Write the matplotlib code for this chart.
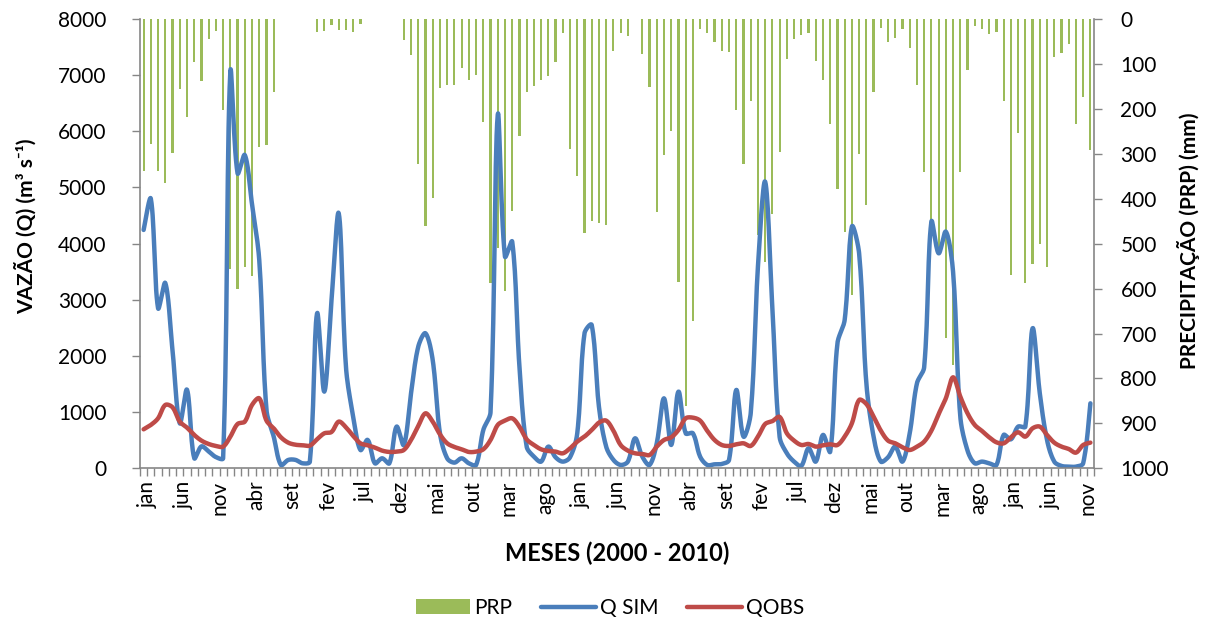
import numpy as np
import matplotlib
matplotlib.use("Agg")
import matplotlib.pyplot as plt
from matplotlib.transforms import ScaledTranslation

plt.rcParams['font.family'] = ['Lato', 'DejaVu Sans']

# precipitação mensal (mm), jan/2000 - dez/2010
prp = [338, 279, 338, 364, 299, 155, 219, 96, 138, 45, 26, 203,
       557, 602, 553, 572, 286, 281, 162, 0, 0, 0, 0, 0,
       28, 27, 13, 24, 24, 30, 12, 0, 0, 0, 0, 0,
       47, 81, 323, 461, 398, 154, 148, 146, 108, 136, 124, 229,
       587, 510, 605, 428, 260, 162, 149, 136, 126, 96, 32, 289,
       349, 477, 449, 453, 459, 71, 32, 37, 0, 79, 151, 430,
       303, 250, 586, 861, 672, 22, 32, 51, 71, 74, 202, 323,
       182, 480, 540, 435, 295, 89, 45, 36, 32, 93, 136, 234,
       378, 475, 614, 300, 413, 162, 19, 51, 42, 23, 65, 146,
       340, 480, 520, 711, 770, 341, 114, 16, 22, 33, 30, 182,
       570, 254, 588, 546, 501, 551, 84, 76, 56, 234, 173, 292]

# vazão simulada (m3/s)
q_sim = [4244, 4800, 2850, 3300, 2100, 800, 1400, 180, 390, 300, 200, 180,
         7063, 5252, 5579, 4700, 3709, 1039, 564, 59, 148, 150, 89, 119,
         2760, 1365, 3000, 4540, 1800, 920, 326, 505, 89, 178, 89, 742,
         415, 1335, 2166, 2404, 1929, 623, 178, 101, 178, 89, 59, 682,
         1000, 6291, 3769, 4036, 1810, 386, 208, 119, 386, 196, 119, 196,
         623, 2404, 2552, 1098, 386, 150, 60, 119, 534, 208, 59, 445,
         1246, 415, 1365, 623, 623, 208, 59, 71, 77, 148, 1395, 564,
         979, 3591, 5104, 2850, 560, 267, 119, 42, 356, 119, 594, 297,
         2226, 2641, 4303, 3828, 1513, 564, 119, 196, 386, 119, 623, 1513,
         1800, 4392, 3828, 4214, 3500, 920, 315, 89, 119, 89, 59, 594,
         516, 742, 742, 2493, 1335, 504, 119, 42, 30, 30, 89, 1157]

# vazão observada (m3/s)
q_obs = [694, 772, 890, 1128, 1086, 831, 724, 594, 493, 433, 398, 386,
         564, 789, 831, 1128, 1246, 849, 712, 552, 457, 420, 410, 404,
         516, 623, 647, 831, 730, 576, 445, 410, 368, 315, 291, 297,
         326, 504, 754, 979, 831, 605, 445, 380, 338, 291, 297, 338,
         504, 772, 849, 890, 742, 516, 415, 338, 309, 297, 267, 356,
         475, 564, 682, 813, 849, 670, 415, 315, 267, 255, 237, 386,
         504, 552, 682, 890, 902, 849, 665, 504, 415, 398, 427, 445,
         398, 564, 789, 840, 915, 623, 493, 415, 433, 386, 410, 427,
         415, 564, 801, 1217, 1145, 920, 671, 493, 445, 374, 326, 386,
         475, 670, 965, 1246, 1620, 1276, 979, 772, 665, 552, 463, 445,
         552, 641, 564, 712, 742, 594, 457, 386, 344, 279, 415, 457]

rotulos = ['jan', 'jun', 'nov', 'abr', 'set', 'fev', 'jul', 'dez', 'mai',
           'out', 'mar', 'ago', 'jan', 'jun', 'nov', 'abr', 'set', 'fev',
           'jul', 'dez', 'mai', 'out', 'mar', 'ago', 'jan', 'jun', 'nov']

VERDE = '#9BBB59'
AZUL = '#4A7EBB'
VERMELHO = '#BE4B48'
CINZA = '#868686'

# escala em pixels (para a suavização ponderada pelo comprimento das cordas)
PX_MES = 954 / 132
PX_Q = 449.3 / 8000


# suavização tipo Excel (Bezier com tangentes ponderadas)
def suavizar(x, y, n=16):
    p = np.column_stack([x, y]).astype(float)
    esc = np.array([PX_MES, PX_Q])
    m = len(p)
    d = np.hypot(*((np.diff(p, axis=0) * esc).T))
    t = np.linspace(0, 1, n)[:, None]
    out = []
    for k in range(m - 1):
        p0 = p[max(k - 1, 0)]
        p1 = p[k]
        p2 = p[k + 1]
        p3 = p[min(k + 2, m - 1)]
        da = d[k - 1] if k > 0 else d[k]
        db = d[k]
        dc = d[k + 1] if k + 2 < m else d[k]
        c1 = p1 + (p2 - p0) / 3 * db / (da + db)
        c2 = p2 - (p3 - p1) / 3 * db / (db + dc)
        b = ((1 - t) ** 3) * p1 + 3 * ((1 - t) ** 2) * t * c1 + 3 * (1 - t) * t ** 2 * c2 + t ** 3 * p2
        out.append(b if k == 0 else b[1:])
    out = np.vstack(out)
    return out[:, 0], out[:, 1]


x = np.arange(len(prp)) + 0.5

fig = plt.figure(figsize=(12.1, 6.21), dpi=100)
ax = fig.add_axes([140 / 1210, 1 - 468.3 / 621, 954 / 1210, 449.3 / 621])
ax2 = ax.twinx()
ax.set_zorder(ax2.get_zorder() + 1)
ax.patch.set_visible(False)

barras = ax2.bar(x, prp, width=0.3, color=VERDE, label='PRP')
ax2.set_ylim(1000, 0)

xs, ys = suavizar(x, q_sim)
l1, = ax.plot(xs, ys, color=AZUL, lw=3.2, solid_capstyle='round', solid_joinstyle='round', label='Q SIM')
xs, ys = suavizar(x, q_obs)
l2, = ax.plot(xs, ys, color=VERMELHO, lw=3.2, solid_capstyle='round', solid_joinstyle='round', label='QOBS')

ax.set_xlim(0, len(prp))
ax.set_ylim(0, 8000)

ax.set_xticks(x[::5])
ax.set_xticklabels(rotulos, rotation=90, fontsize=15)
ax.tick_params(axis='x', which='major', length=0, pad=9)
desloc = ScaledTranslation(4 / 100, 0, fig.dpi_scale_trans)
for lbl in ax.get_xticklabels():
    lbl.set_transform(lbl.get_transform() + desloc)
ax.set_xticks(np.arange(0, len(prp) + 1), minor=True)
ax.tick_params(axis='x', which='minor', length=6, width=1, color=CINZA)

ax.set_yticks(range(0, 8001, 1000))
ax.tick_params(axis='y', length=6, width=1, color=CINZA, pad=18, labelsize=15)
ax2.set_yticks(range(0, 1001, 100))
ax2.tick_params(axis='y', length=6, width=1, color=CINZA, pad=13, labelsize=15)

for s in ['top', 'right']:
    ax.spines[s].set_visible(False)
for s in ['top', 'left', 'bottom']:
    ax2.spines[s].set_visible(False)
for sp in [ax.spines['left'], ax.spines['bottom'], ax2.spines['right']]:
    sp.set_color(CINZA)
    sp.set_linewidth(1.2)

ax.set_xlabel('MESES (2000 - 2010)', fontsize=17, fontweight='bold')
ax.xaxis.set_label_coords(0.5, -0.162)
ax.set_ylabel('VAZÃO (Q) (m³ s⁻¹)', fontsize=15, fontweight='bold')
ax.yaxis.set_label_coords(-0.108, 0.539)
ax2.set_ylabel('PRECIPITAÇÃO (PRP) (mm)', fontsize=15, fontweight='bold')
ax2.yaxis.set_label_coords(1.087, 0.506)

fig.legend([barras, l1, l2], ['PRP', 'Q SIM', 'QOBS'], loc='center',
           bbox_to_anchor=(610 / 1210, 1 - 608 / 621), ncol=3, frameon=False,
           fontsize=15, handlelength=2.6, handletextpad=0.2, columnspacing=1.4)

fig.savefig('out.png', dpi=100)
